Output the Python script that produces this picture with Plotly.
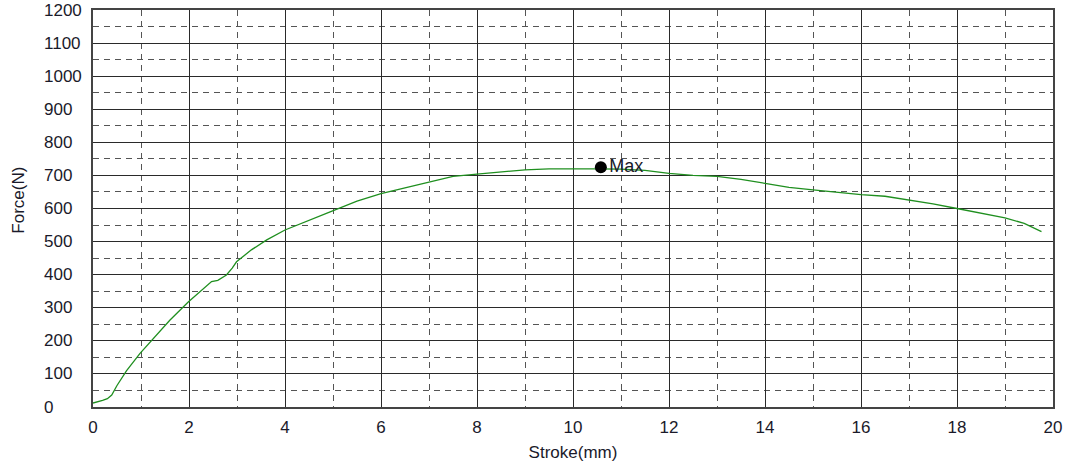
import plotly.graph_objects as go

stroke = [0.0, 0.1, 0.2, 0.3, 0.39, 0.5, 0.7, 0.98, 1.3, 1.6, 1.99, 2.25, 2.47, 2.6, 2.78, 2.9, 2.99, 3.3, 3.62, 4.0, 4.5, 4.94,
          5.5, 6.0, 6.5, 7.0, 7.5, 8.0, 8.5, 9.0, 9.5, 10.0, 10.5, 11.0, 11.5, 12.0, 12.5, 13.0, 13.5, 14.0,
          14.5, 15.0, 15.5, 16.0, 16.5, 16.81, 17.0, 17.5, 18.0, 18.5, 19.0, 19.4, 19.76]
force = [12, 15, 20, 25, 36, 65, 110, 162, 212, 262, 318, 350, 379, 383, 399, 420, 439, 475, 505, 535, 565, 590,
         622, 645, 662, 680, 697, 704, 710, 717, 720, 721, 720, 719, 715, 706, 700, 697, 688, 676,
         664, 656, 648, 642, 637, 630, 626, 614, 600, 587, 572, 555, 530]

max_x = [10.58]
max_y = [725]
max_label = ["Max"]

x_ticks = list(range(0, 21, 2))
y_ticks = list(range(0, 1201, 100))
y_tick_labels = [str(v) for v in y_ticks]

FAM = "Liberation Sans, Arial"
TXT = "#1a1a2a"

fig = go.Figure()
fig.add_trace(go.Scatter(x=stroke, y=force, mode="lines",
                         line=dict(color="#1f8f1f", width=1.3), showlegend=False))
fig.add_trace(go.Scatter(x=max_x, y=max_y, mode="markers+text", text=max_label,
                         textposition="middle right",
                         textfont=dict(family=FAM, size=18, color=TXT),
                         marker=dict(color="black", size=12), showlegend=False))

# left-aligned y tick labels
for v, lab in zip(y_ticks, y_tick_labels):
    fig.add_annotation(x=-0.0535, xref="paper", y=v, yref="y", text=lab, showarrow=False,
                       xanchor="left", yanchor="middle",
                       font=dict(family=FAM, size=17, color=TXT))

fig.update_layout(
    width=1070, height=470,
    margin=dict(l=93, r=17, t=10, b=63),
    plot_bgcolor="white", paper_bgcolor="white",
    font=dict(family=FAM, size=17, color=TXT),
    xaxis=dict(range=[0, 20], tickvals=x_ticks, showgrid=True, gridcolor="#2a2a2a", gridwidth=1,
               zeroline=False, showline=True, linecolor="#444", linewidth=2, mirror=True,
               ticks="", ticklabelstandoff=4, automargin=False,
               tickfont=dict(size=17),
               minor=dict(dtick=1, showgrid=True, gridcolor="#555", griddash="6px,5px", gridwidth=1),
               title=dict(text="Stroke(mm)", font=dict(size=17), standoff=10)),
    yaxis=dict(range=[0, 1200], tickvals=y_ticks, showgrid=True, gridcolor="#2a2a2a", gridwidth=1,
               zeroline=False, showline=True, linecolor="#444", linewidth=2, mirror=True,
               ticks="", showticklabels=False, automargin=False,
               minor=dict(dtick=50, showgrid=True, gridcolor="#555", griddash="6px,5px", gridwidth=1)),
)
fig.add_annotation(x=-0.078, xref="paper", y=0.52, yref="paper", text="Force(N)", showarrow=False,
                   textangle=-90, xanchor="center", yanchor="middle",
                   font=dict(family=FAM, size=17, color=TXT))
fig.write_html("out.html", config={"displayModeBar": False},
               post_script="document.body.style.margin='0px';document.body.style.overflow='hidden';")
